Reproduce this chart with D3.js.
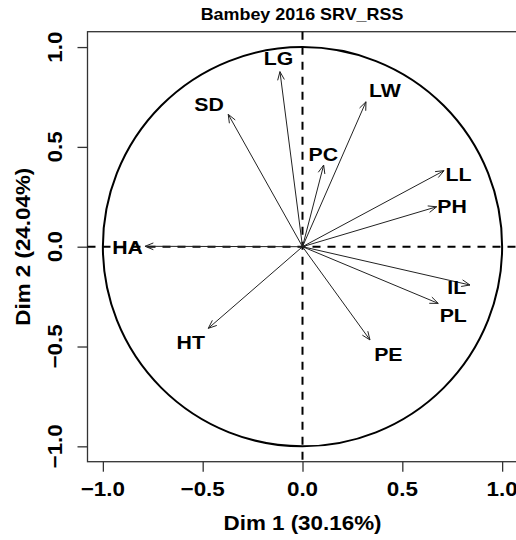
<!DOCTYPE html>
<html><head><meta charset="utf-8">
<script src="https://cdn.jsdelivr.net/npm/d3@7"></script>
<style>body{margin:0;background:#fff}svg{display:block}</style>
</head><body>
<script>
const variables = ["LG","LW","SD","PC","LL","PH","HA","IL","PL","PE","HT"];
const dim1 = [-0.113, 0.318, -0.372, 0.106, 0.709, 0.672, -0.789, 0.839, 0.680, 0.338, -0.472];
const dim2 = [0.877, 0.726, 0.663, 0.409, 0.381, 0.200, 0.002, -0.192, -0.284, -0.467, -0.409];
// label anchor positions (repelled, in data units)
const labX = [-0.120, 0.413, -0.468, 0.104, 0.781, 0.749, -0.876, 0.773, 0.755, 0.430, -0.560];
const labY = [0.942, 0.782, 0.715, 0.464, 0.364, 0.200, -0.002, -0.204, -0.346, -0.540, -0.480];
const ticks = [-1.0, -0.5, 0.0, 0.5, 1.0];
const title = "Bambey 2016 SRV_RSS";
const xTitle = "Dim 1 (30.16%)";
const yTitle = "Dim 2 (24.04%)";

const W = 516, H = 540;
const svg = d3.select("body").append("svg").attr("width", W).attr("height", H);
const lim = 1.077;
const x = d3.scaleLinear().domain([-lim, lim]).range([87.5, 517.5]);
const y = d3.scaleLinear().domain([-lim, lim]).range([461.7, 31.7]);
const font = "'Liberation Sans', Arial, sans-serif";
const SX = 1.12;

function txt(g, tx, ty, s, size, rot) {
  g.append("text")
    .attr("transform", `translate(${tx},${ty}) rotate(${rot||0}) scale(${SX},1)`)
    .attr("text-anchor", "middle").attr("dominant-baseline", "central")
    .attr("font-family", font).attr("font-weight", "bold").attr("font-size", size)
    .attr("fill", "#000").text(s);
}

// box
svg.append("rect").attr("x", x(-lim)).attr("y", y(lim))
  .attr("width", x(lim) - x(-lim)).attr("height", y(-lim) - y(lim))
  .attr("fill", "none").attr("stroke", "#333").attr("stroke-width", 1.3);

// axes
const gx = svg.append("g").attr("transform", `translate(0,${y(-lim)})`)
  .call(d3.axisBottom(x).tickValues(ticks).tickSize(10).tickFormat(""));
const gy = svg.append("g").attr("transform", `translate(${x(-lim)},0)`)
  .call(d3.axisLeft(y).tickValues(ticks).tickSize(10).tickFormat(""));
[gx, gy].forEach(g => {
  g.select(".domain").remove();
  g.selectAll("line").attr("stroke", "#333").attr("stroke-width", 1.3);
});
const tl = svg.append("g");
ticks.forEach(t => {
  txt(tl, x(t), 489, d3.format(".1f")(t), 20);
  txt(tl, 54.5, y(t), d3.format(".1f")(t), 20, -90);
});
txt(svg, 302.5, 523, xTitle, 20);
txt(svg, 23, y(0), yTitle, 20, -90);
txt(svg, 302, 14.5, title, 16);

// circle
const r = x(1) - x(0);
svg.append("circle").attr("cx", x(0)).attr("cy", y(0)).attr("r", r)
  .attr("fill", "none").attr("stroke", "#000").attr("stroke-width", 2);

// dashed axes
svg.append("line").attr("x1", x(-lim)).attr("x2", x(lim)).attr("y1", y(0)).attr("y2", y(0))
  .attr("stroke", "#000").attr("stroke-width", 2).attr("stroke-dasharray", "8,7");
svg.append("line").attr("x1", x(0)).attr("x2", x(0)).attr("y1", y(lim)).attr("y2", y(-lim))
  .attr("stroke", "#000").attr("stroke-width", 2).attr("stroke-dasharray", "8,7");

// arrows
const ag = svg.append("g").attr("stroke", "#222").attr("stroke-width", 1).attr("fill", "none");
const headLen = 9, headAng = 22 * Math.PI / 180;
variables.forEach((v, i) => {
  const x0 = x(0), y0 = y(0), x1 = x(dim1[i]), y1 = y(dim2[i]);
  ag.append("line").attr("x1", x0).attr("y1", y0).attr("x2", x1).attr("y2", y1);
  const a = Math.atan2(y1 - y0, x1 - x0);
  const p = d3.path();
  p.moveTo(x1 - headLen * Math.cos(a - headAng), y1 - headLen * Math.sin(a - headAng));
  p.lineTo(x1, y1);
  p.lineTo(x1 - headLen * Math.cos(a + headAng), y1 - headLen * Math.sin(a + headAng));
  ag.append("path").attr("d", p.toString());
});
const lg = svg.append("g");
variables.forEach((v, i) => txt(lg, x(labX[i]), y(labY[i]), v, 19));
</script>
</body></html>
